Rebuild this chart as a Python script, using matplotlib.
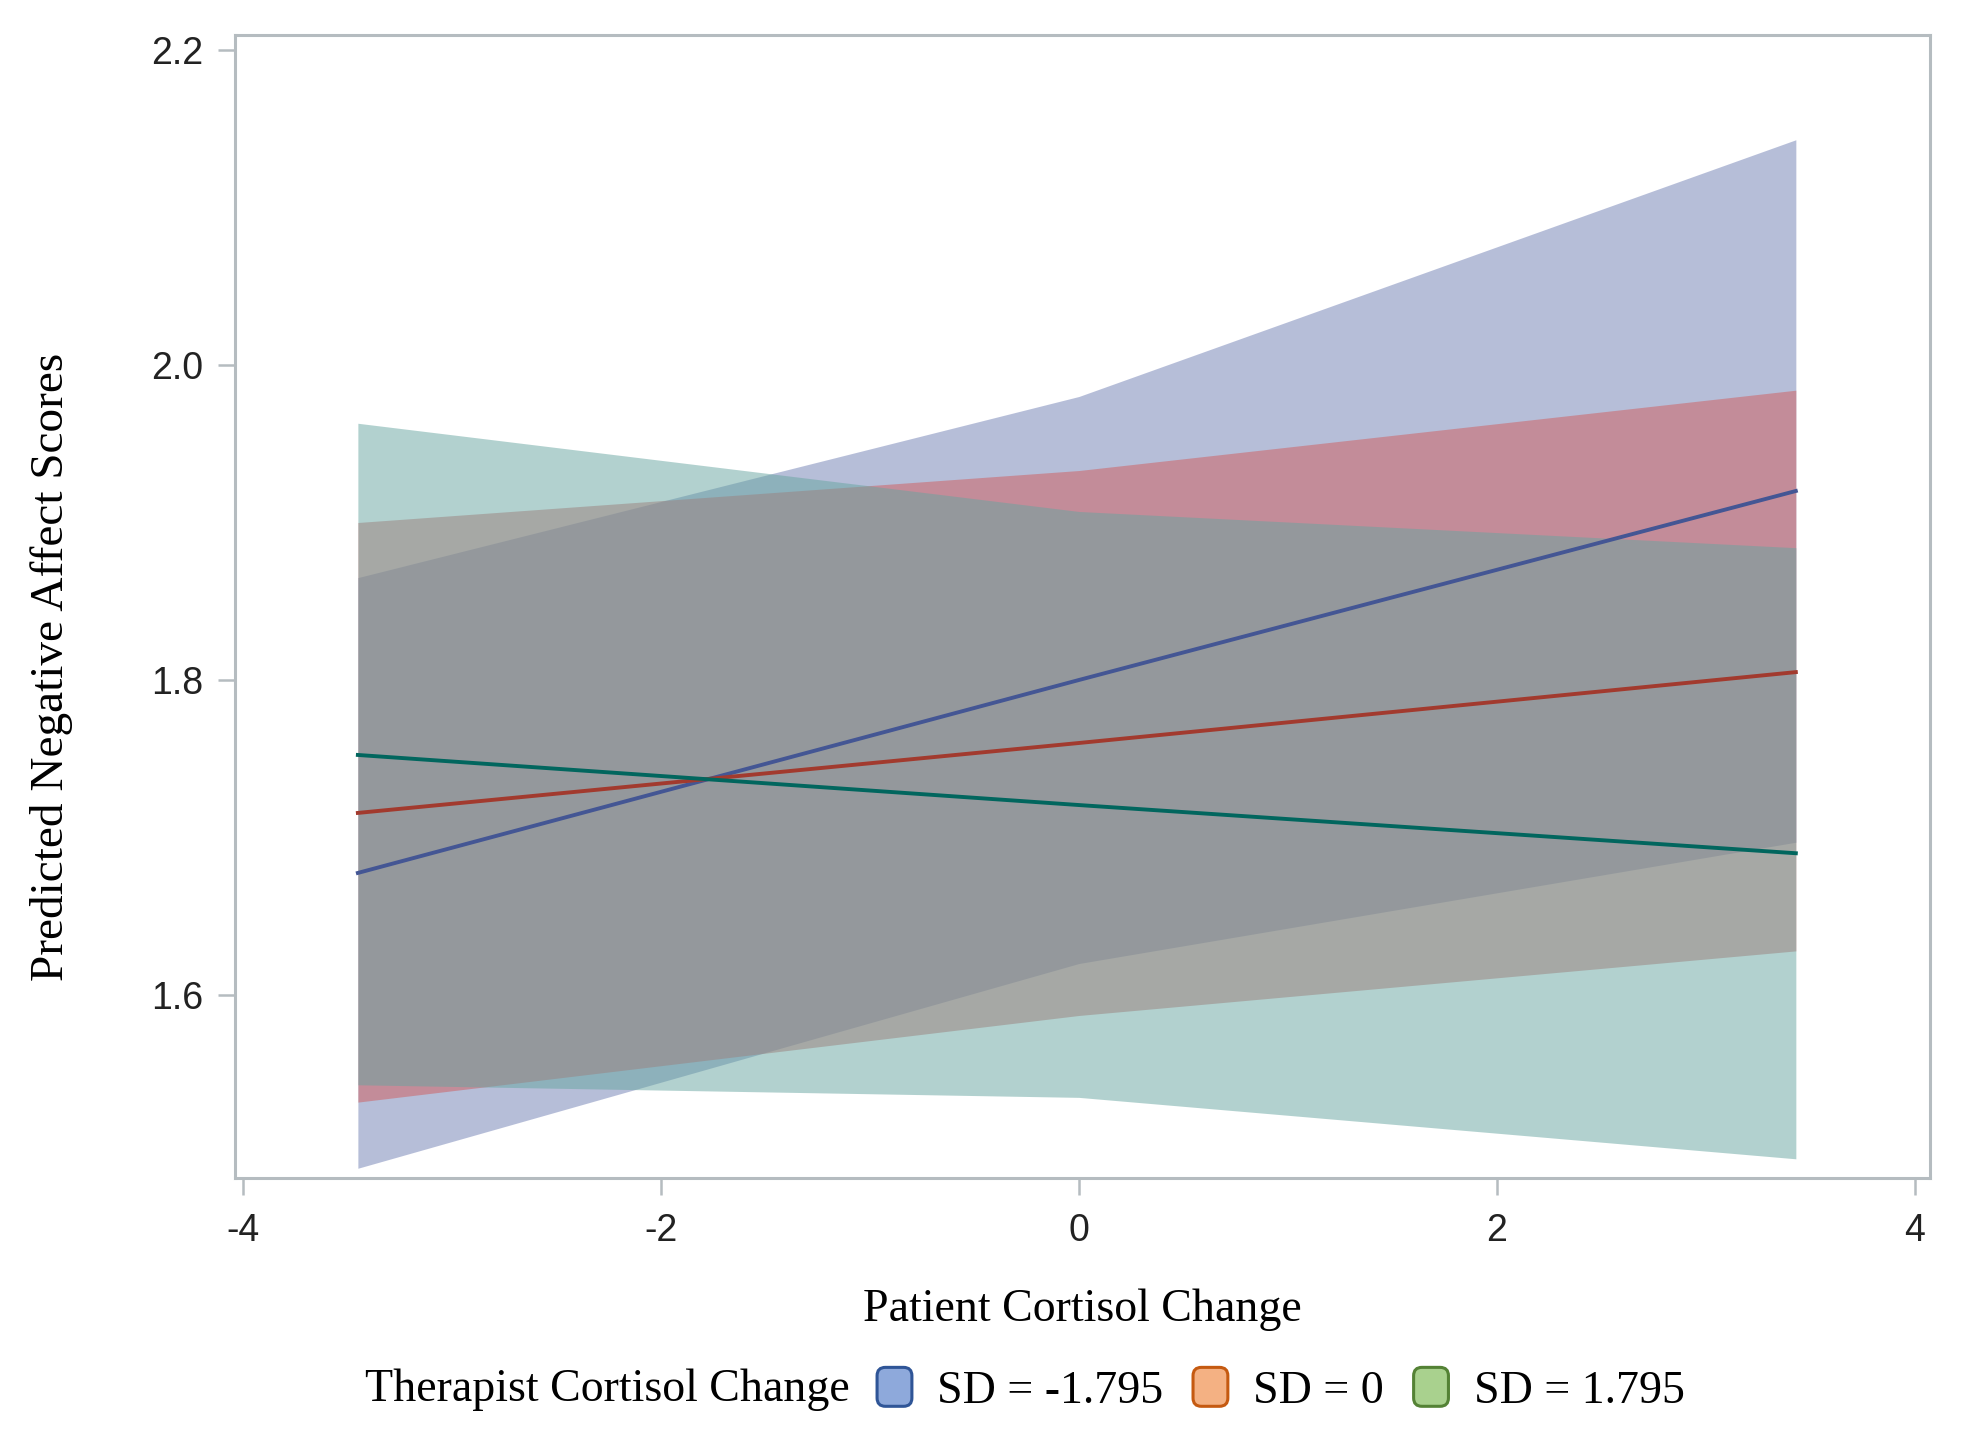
import matplotlib
matplotlib.use("Agg")
import matplotlib.pyplot as plt
from matplotlib.patches import Patch, FancyBboxPatch
from matplotlib.legend_handler import HandlerPatch

# Predicted values and confidence limits at min, mean and max of patient cortisol change
x = [-3.45, 0.0, 3.43]

blue_pred = [1.6775, 1.800, 1.920]
blue_lower = [1.490, 1.620, 1.697]
blue_upper = [1.865, 1.980, 2.143]

red_pred = [1.7156, 1.760, 1.805]
red_lower = [1.532, 1.587, 1.628]
red_upper = [1.900, 1.933, 1.984]

green_pred = [1.7524, 1.7206, 1.690]
green_lower = [1.543, 1.535, 1.496]
green_upper = [1.963, 1.907, 1.884]

group_labels = ["SD = -1.795", "SD = 0", "SD = 1.795"]
x_ticks = [-4, -2, 0, 2, 4]
y_ticks = [1.6, 1.8, 2.0, 2.2]

band_colors = ["#6F7EB3", "#D05B5B", "#66A5A0"]
line_colors = ["#445694", "#A23A2E", "#01665E"]
legend_fill = ["#8EA9DB", "#F4B183", "#A9D18E"]
legend_edge = ["#2F5597", "#C55A11", "#548235"]
frame_color = "#B5BCC0"

serif = ["Liberation Serif", "DejaVu Serif"]
sans = ["Liberation Sans", "DejaVu Sans"]

fig = plt.figure(figsize=(19.63, 14.41), dpi=100)
ax = fig.add_axes([0.1197, 0.1825, 0.9832 - 0.1197, 0.9757 - 0.1825])

bands = [(blue_lower, blue_upper), (red_lower, red_upper), (green_lower, green_upper)]
preds = [blue_pred, red_pred, green_pred]

for (lo, hi), c in zip(bands, band_colors):
    ax.fill_between(x, lo, hi, color=c, alpha=0.5, linewidth=0)
for p, c in zip(preds, line_colors):
    ax.plot(x, p, color=c, linewidth=2.8)

ax.set_xlim(-4.038, 4.072)
ax.set_ylim(1.4838, 2.2095)
ax.set_xticks(x_ticks)
ax.set_yticks(y_ticks)
ax.set_xticklabels([str(t) for t in x_ticks])
ax.set_yticklabels([f"{t:.1f}" for t in y_ticks])

for s in ax.spines.values():
    s.set_color(frame_color)
    s.set_linewidth(2.2)
ax.tick_params(axis="both", color=frame_color, width=1.8, length=12,
               labelsize=27, labelcolor="#222222")
ax.tick_params(axis="x", pad=13)
ax.tick_params(axis="y", pad=11)
for lab in ax.get_xticklabels() + ax.get_yticklabels():
    lab.set_family(sans)

ax.set_xlabel("Patient Cortisol Change", fontsize=33, family=serif)
ax.set_ylabel("Predicted Negative Affect Scores", fontsize=34, family=serif)
ax.xaxis.set_label_coords(0.5, -0.097)
ax.yaxis.set_label_coords(-0.0956, 0.447)

# legend: title text on the left, rounded swatches after it
fig.text(0.1859, 0.0354, "Therapist Cortisol Change", fontsize=33, family=serif,
         ha="left", va="center")


def rounded_patch(legend, orig_handle, xdescent, ydescent, width, height, fontsize):
    return FancyBboxPatch((-xdescent, -ydescent), width, height,
                          boxstyle="round,pad=0,rounding_size=6")


handles = [Patch(facecolor=f, edgecolor=e, linewidth=2.2)
           for f, e in zip(legend_fill, legend_edge)]
fig.legend(handles, group_labels, loc="center left", bbox_to_anchor=(0.4468, 0.0354),
           ncol=3, frameon=False, borderpad=0, borderaxespad=0,
           handlelength=0.76, handleheight=0.93, handletextpad=0.55,
           columnspacing=0.65, prop={"family": serif, "size": 33},
           handler_map={Patch: HandlerPatch(patch_func=rounded_patch)})

fig.savefig("out.png", dpi=100)
